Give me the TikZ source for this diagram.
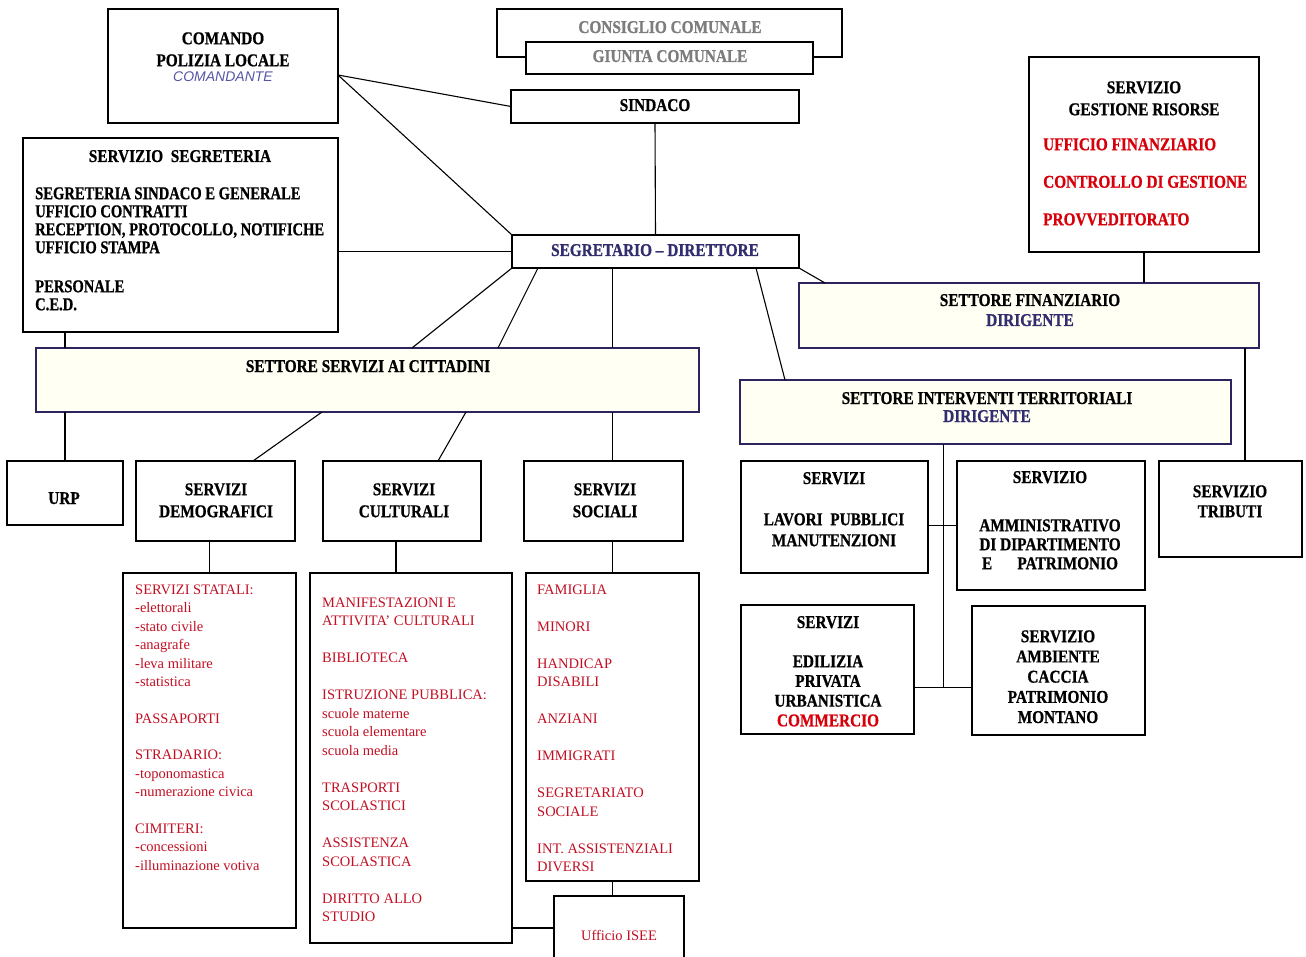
\documentclass[tikz,border=0pt]{standalone}
\usepackage{fontspec}
\setmainfont{Liberation Serif}
\newfontfamily\hbfam[FakeStretch=0.85,FakeBold=0.8]{Liberation Serif}
\newfontfamily\hbfamn[FakeStretch=0.81,FakeBold=0.8]{Liberation Serif}
\newfontfamily\sansfam{Liberation Sans}
\usetikzlibrary{calc}
\definecolor{redtxt}{RGB}{195,15,35}
\definecolor{redbold}{RGB}{215,0,10}
\definecolor{navy}{RGB}{50,45,110}
\definecolor{cmdblue}{RGB}{85,85,165}
\definecolor{graytxt}{RGB}{125,125,125}
\definecolor{secline}{RGB}{45,35,95}
\definecolor{secfill}{RGB}{255,255,243}
\newcommand\bfs[2]{\hbfam\fontsize{#1}{#2}\bfseries}
\newcommand\mkbox[6][]{\node[bx,#1,anchor=north west,minimum width={#5-#3},minimum height={#6-#4}] (#2) at (#3,#4) {};}
\tikzset{
  bx/.style={draw=black, line width=1.4pt, fill=white, inner sep=0pt, outer sep=0pt},
  sec/.style={draw=secline, line width=1.2pt, fill=secfill},
  ln/.style={line width=1.1pt, draw=black},
  bt/.style={inner sep=0pt, font=\bfs{18}{22}},
  rt/.style={inner sep=0pt, text=redtxt, align=left, anchor=north west, font=\rmfamily\fontsize{14.5}{18.5}\selectfont},
}
\begin{document}
\begin{tikzpicture}[x=1pt,y=-1pt]
\useasboundingbox (0,0) rectangle (1306,957);
\fill[white] (0,0) rectangle (1306,957);
\clip (0,0) rectangle (1306,957);

% ---------- boxes ----------
\mkbox{comando}{108}{9}{338}{123}
\mkbox{segreteria}{23}{138}{338}{332}
\mkbox{consiglio}{497}{9}{842}{57}
\mkbox{giunta}{526}{42}{813}{74}
\mkbox{sindaco}{511}{90}{799}{123}
\mkbox{segretario}{512}{235}{799}{268}
\mkbox{sgr}{1029}{57}{1259}{252}
\mkbox[sec]{sf}{799}{283}{1259}{348}
\mkbox[sec]{ssc}{36}{348}{699}{412}
\mkbox[sec]{sit}{740}{380}{1231}{444}
\mkbox{urp}{7}{461}{123}{525}
\mkbox{dem}{136}{461}{295}{541}
\mkbox{cult}{323}{461}{481}{541}
\mkbox{soc}{524}{461}{683}{541}
\mkbox{demlist}{123}{573}{296}{928}
\mkbox{cultlist}{310}{573}{512}{943}
\mkbox{soclist}{526}{573}{699}{881}
\mkbox{isee}{554}{896}{684}{960}
\mkbox{lp}{741}{461}{928}{573}
\mkbox{amm}{957}{461}{1145}{590}
\mkbox{trib}{1159}{461}{1302}{557}
\mkbox{edil}{741}{605}{914}{734}
\mkbox{amb}{972}{606}{1145}{735}

% ---------- connectors ----------
\draw[ln] ([yshift=-9pt]comando.east) -- (sindaco.west);
\draw[ln] ([yshift=-9pt]comando.east) -- (segretario.north west);
\draw[ln] (segretario.west) -- (segretario.west -| segreteria.east);
\draw[ln] (sindaco.south) -- (segretario.north);
\draw[ln] (segretario.south west) -- ([xshift=376pt]ssc.north west);
\draw[ln] ([xshift=26pt]segretario.south west) -- ([xshift=462pt]ssc.north west);
\draw[ln] (segretario.south -| soclist.north) -- (ssc.north -| soclist.north);
\draw[ln] ([xshift=244pt]segretario.south west) -- ([xshift=45pt]sit.north west);
\draw[ln] (segretario.south east) -- ([xshift=26pt]sf.north west);
\draw[ln] (sgr.south) -- (sgr.south |- sf.north);
\path ([xshift=-14pt]sf.south east) coordinate (sft);
\draw[ln] (sft) -- (sft |- trib.north);
\draw[ln] (urp.north |- segreteria.south) -- (urp.north |- ssc.north);
\draw[ln] (urp.north) -- (urp.north |- ssc.south);
\draw[ln] ([xshift=286pt]ssc.south west) -- ([xshift=117pt]dem.north west);
\draw[ln] ([xshift=430pt]ssc.south west) -- ([xshift=115pt]cult.north west);
\draw[ln] (ssc.south -| soclist.north) -- (soc.north -| soclist.north);
\draw[ln] (demlist.north) -- (demlist.north |- dem.south);
\path ([xshift=86pt]cultlist.north west) coordinate (cx);
\draw[ln] (cx) -- (cx |- cult.south);
\draw[ln] (soclist.north) -- (soclist.north |- soc.south);
\draw[ln] (soclist.south) -- (soclist.south |- isee.north);
\draw[ln] (isee.west) -- (isee.west -| cultlist.east);
\path ([xshift=-42pt]sit.south) coordinate (tj);
\path ([yshift=-17pt]amb.west) coordinate (aj);
\draw[ln] (tj) -- (tj |- aj);
\draw[ln] (aj) -- (aj -| edil.east);
\draw[ln] (amm.west) -- (amm.west -| lp.east);

% ---------- texts ----------
\node[bt, align=center, anchor=north] (comando-t) at (223,31) {\rule{0pt}{13pt}COMANDO\\POLIZIA LOCALE};
\node[inner sep=0pt, anchor=base, text=cmdblue, font=\sansfam\itshape\fontsize{14}{16}\selectfont] (comando-c) at (223,82) {COMANDANTE};

\node[bt, anchor=base] (segreteria-t) at (180,162) {SERVIZIO\ \ SEGRETERIA};
\node[bt, align=left, anchor=north west, font=\hbfamn\fontsize{18}{18}\bfseries] (segreteria-b) at (35,186)
  {\rule{0pt}{13pt}SEGRETERIA SINDACO E GENERALE\\UFFICIO CONTRATTI\\RECEPTION, PROTOCOLLO, NOTIFICHE\\UFFICIO STAMPA\\[21pt]PERSONALE\\C.E.D.};

\node[bt, anchor=base, text=graytxt] (consiglio-t) at (670,33) {CONSIGLIO COMUNALE};
\node[bt, anchor=base, text=graytxt] (giunta-t) at (670,62) {GIUNTA COMUNALE};
\node[bt, anchor=base] (sindaco-t) at (655,111) {SINDACO};
\node[bt, anchor=base, text=navy] (segretario-t) at (655,256) {SEGRETARIO – DIRETTORE};

\node[bt, align=center, anchor=north] (sgr-t) at (1144,80) {\rule{0pt}{13pt}SERVIZIO\\GESTIONE RISORSE};
\node[bt, align=left, anchor=north west, text=redbold, font=\bfs{18}{37.5}] (sgr-r) at (1043,137)
  {\rule{0pt}{13pt}UFFICIO FINANZIARIO\\CONTROLLO DI GESTIONE\\PROVVEDITORATO};

\node[bt, anchor=base] (sf-t) at (1030,306) {SETTORE FINANZIARIO};
\node[bt, anchor=base, text=navy] (sf-d) at (1030,326) {DIRIGENTE};
\node[bt, anchor=base] (sit-t) at (987,404) {SETTORE INTERVENTI TERRITORIALI};
\node[bt, anchor=base, text=navy] (sit-d) at (987,422) {DIRIGENTE};
\node[bt, anchor=base] (ssc-t) at (368,372) {SETTORE SERVIZI AI CITTADINI};

\node[bt, anchor=base] (urp-t) at (64,504) {URP};
\node[bt, align=center, anchor=north] (dem-t) at (216,482) {\rule{0pt}{13pt}SERVIZI\\DEMOGRAFICI};
\node[bt, align=center, anchor=north] (cult-t) at (404,482) {\rule{0pt}{13pt}SERVIZI\\CULTURALI};
\node[bt, align=center, anchor=north] (soc-t) at (605,482) {\rule{0pt}{13pt}SERVIZI\\SOCIALI};

\node[bt, anchor=base] (lp-t) at (834,484) {SERVIZI};
\node[bt, align=center, anchor=north, font=\bfs{18}{21}] (lp-b) at (834,512) {\rule{0pt}{13pt}LAVORI\ \ PUBBLICI\\MANUTENZIONI};
\node[bt, anchor=base] (amm-t) at (1050,483) {SERVIZIO};
\node[bt, align=center, anchor=north, font=\bfs{18}{19}] (amm-b) at (1050,518) {\rule{0pt}{13pt}AMMINISTRATIVO\\DI DIPARTIMENTO\\E\hspace{1.4em}PATRIMONIO};
\node[bt, align=center, anchor=north, font=\bfs{18}{20}] (trib-t) at (1230,484) {\rule{0pt}{13pt}SERVIZIO\\TRIBUTI};
\node[bt, anchor=base] (edil-t) at (828,628) {SERVIZI};
\node[bt, align=center, anchor=north, font=\bfs{18}{19.7}] (edil-b) at (828,654) {\rule{0pt}{13pt}EDILIZIA\\PRIVATA\\URBANISTICA\\\textcolor{redbold}{COMMERCIO}};
\node[bt, align=center, anchor=north, font=\bfs{18}{20.2}] (amb-t) at (1058,629) {\rule{0pt}{13pt}SERVIZIO\\AMBIENTE\\CACCIA\\PATRIMONIO\\MONTANO};

\node[rt] (demlist-t) at (135,583) {\rule{0pt}{11pt}SERVIZI STATALI:\\-elettorali\\-stato civile\\-anagrafe\\-leva militare\\-statistica\\[18pt]PASSAPORTI\\[18pt]STRADARIO:\\-toponomastica\\-numerazione civica\\[18pt]CIMITERI:\\-concessioni\\-illuminazione votiva};
\node[rt] (cultlist-t) at (322,596) {\rule{0pt}{11pt}MANIFESTAZIONI E\\ATTIVITA’ CULTURALI\\[18.5pt]BIBLIOTECA\\[18.5pt]ISTRUZIONE PUBBLICA:\\scuole materne\\scuola elementare\\scuola media\\[18.5pt]TRASPORTI\\SCOLASTICI\\[18.5pt]ASSISTENZA\\SCOLASTICA\\[18.5pt]DIRITTO ALLO\\STUDIO};
\node[rt] (soclist-t) at (537,583) {\rule{0pt}{11pt}FAMIGLIA\\[18.5pt]MINORI\\[18.5pt]HANDICAP\\DISABILI\\[18.5pt]ANZIANI\\[18.5pt]IMMIGRATI\\[18.5pt]SEGRETARIATO\\SOCIALE\\[18.5pt]INT. ASSISTENZIALI\\DIVERSI};
\node[inner sep=0pt, anchor=base, text=redtxt, font=\rmfamily\fontsize{14.5}{18.5}\selectfont] (isee-t) at (619,940) {Ufficio ISEE};
\end{tikzpicture}
\end{document}
